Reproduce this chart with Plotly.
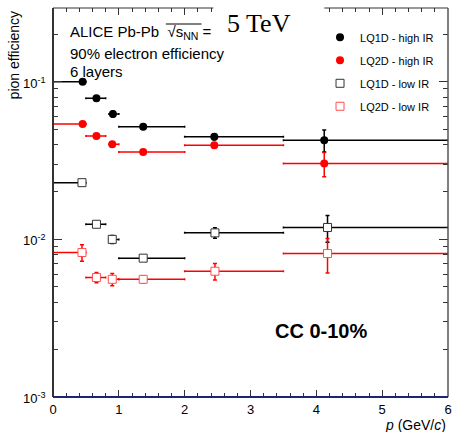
import math
import plotly.graph_objects as go

# ---- data ----
bin_lo = [0.0, 0.5, 0.85, 1.0, 2.0, 3.5]
bin_hi = [0.5, 0.8, 1.0, 2.0, 3.5, 6.0]

x_lq1d_high = [0.45, 0.66, 0.91, 1.37, 2.45, 4.12]
y_lq1d_high = [0.100, 0.0785, 0.0624, 0.0518, 0.0448, 0.0426]
e_lq1d_high = [0.002, 0.003, 0.0025, 0.0015, 0.002, 0.0068]

x_lq2d_high = [0.45, 0.66, 0.90, 1.37, 2.45, 4.12]
y_lq2d_high = [0.0539, 0.0452, 0.0402, 0.0359, 0.0396, 0.0303]
e_lq2d_high = [0.0015, 0.0015, 0.0015, 0.001, 0.0015, 0.0053]

x_lq1d_low = [0.44, 0.66, 0.90, 1.37, 2.46, 4.17]
y_lq1d_low = [0.0229, 0.01247, 0.0100, 0.0076, 0.0110, 0.0119]
e_lq1d_low = [0.001, 0.0005, 0.0006, 0.0003, 0.00085, 0.0023]

x_lq2d_low = [0.44, 0.66, 0.90, 1.37, 2.46, 4.17]
y_lq2d_low = [0.00826, 0.00573, 0.00558, 0.00558, 0.00628, 0.00813]
e_lq2d_low = [0.001, 0.00043, 0.0005, 0.0003, 0.00075, 0.002]

series_names = ["LQ1D - high IR", "LQ2D - high IR", "LQ1D - low IR", "LQ2D - low IR"]

y_major = [1e-3, 1e-2, 1e-1]
y_major_text = ["10<sup>-3</sup>", "10<sup>-2</sup>", "10<sup>-1</sup>"]
y_minor = [m * d for d in [1e-3, 1e-2, 1e-1] for m in range(2, 10) if m * d <= 0.3]
x_major = [0, 1, 2, 3, 4, 5, 6]
x_minor = [i * 0.2 for i in range(31)]

FONT = "Liberation Sans, Arial, sans-serif"

def xerr(xs):
    plus = [h - m for h, m in zip(bin_hi, xs)]
    minus = [m - l for l, m in zip(bin_lo, xs)]
    return plus, minus

fig = go.Figure()

def add(xs, ys, es, name, color, filled, edge):
    plus, minus = xerr(xs)
    if filled:
        marker = dict(symbol="circle", size=8, color=color, line=dict(width=0))
    else:
        marker = dict(symbol="square", size=8, color="white", line=dict(width=1, color=edge))
    fig.add_trace(go.Scatter(
        x=xs, y=ys, mode="markers", name=name, legendgroup=name,
        marker=marker,
        error_x=dict(type="data", array=plus, arrayminus=minus, symmetric=False,
                     color=color, thickness=1.5, width=1),
        error_y=dict(type="data", array=es, color=color, thickness=1.5, width=2),
    ))

add(x_lq1d_high, y_lq1d_high, e_lq1d_high, series_names[0], "black", True, "black")
add(x_lq2d_high, y_lq2d_high, e_lq2d_high, series_names[1], "red", True, "red")
add(x_lq1d_low, y_lq1d_low, e_lq1d_low, series_names[2], "black", False, "#333333")
add(x_lq2d_low, y_lq2d_low, e_lq2d_low, series_names[3], "red", False, "#ff5050")

fig.update_layout(
    width=457, height=432,
    margin=dict(l=53, r=5, t=8, b=35),
    paper_bgcolor="white", plot_bgcolor="white",
    font=dict(family=FONT, size=13, color="black"),
    showlegend=True,
    legend=dict(x=0.676, y=0.962, xanchor="left", yanchor="top",
                bgcolor="white", font=dict(size=11, family=FONT),
                tracegroupgap=4),
    xaxis=dict(range=[0, 6], showgrid=False, zeroline=False, showline=False,
               tickmode="array", tickvals=x_major, ticks="inside", ticklen=7,
               tickcolor="#333333", tickwidth=1, mirror="ticks",
               tickfont=dict(size=13), ticklabelstandoff=3,
               minor=dict(tickmode="array", tickvals=x_minor, ticks="inside",
                          ticklen=4, tickcolor="#333333", tickwidth=1)),
    yaxis=dict(type="log", range=[-3, -0.532], showgrid=False, zeroline=False,
               showline=False, tickmode="array", tickvals=y_major,
               ticks="inside", ticklen=9, showticklabels=False,
               tickcolor="#333333", tickwidth=1, mirror="ticks",
               minor=dict(tickmode="array", tickvals=y_minor, ticks="inside",
                          ticklen=5, tickcolor="#333333", tickwidth=1)),
)

# y tick labels placed on the y axis scale
for v, t in zip(y_major, y_major_text):
    fig.add_annotation(text=t, x=-5 / 399, y=math.log10(v), xref="paper", yref="y",
                       xanchor="right", yanchor="middle", showarrow=False, yshift=-1,
                       font=dict(size=13, family=FONT, color="black"))

# frame
fig.add_shape(type="line", xref="paper", yref="paper", x0=0, x1=1, y0=1, y1=1,
              line=dict(color="#333333", width=1), layer="above")
fig.add_shape(type="line", xref="paper", yref="paper", x0=1, x1=1, y0=0, y1=1,
              line=dict(color="#555555", width=1.5), layer="above")
fig.add_shape(type="line", xref="paper", yref="paper", x0=0, x1=0, y0=0, y1=1,
              line=dict(color="#333333", width=2), layer="above")
fig.add_shape(type="line", xref="paper", yref="paper", x0=0, x1=1, y0=0, y1=0,
              line=dict(color="#1c2570", width=2), layer="above")
# white patch behind "5 TeV"
fig.add_shape(type="rect", xref="paper", yref="paper",
              x0=(215 - 53) / 399, x1=(327 - 53) / 399, y0=(397 - 16) / 389, y1=1.03,
              line=dict(width=0), fillcolor="white", layer="above")

def px_x(p):
    return (p - 53) / 399

def px_y(p):
    return (397 - p) / 389

ann = [
    dict(text="ALICE Pb-Pb  √s<sub>NN</sub> =", x=px_x(68), y=px_y(33), size=15),
    dict(text="90% electron efficiency", x=px_x(68), y=px_y(53), size=15),
    dict(text="6 layers", x=px_x(68), y=px_y(71), size=15),
]
for a in ann:
    fig.add_annotation(text=a["text"], x=a["x"], y=a["y"], xref="paper", yref="paper",
                       xanchor="left", yanchor="middle", showarrow=False,
                       font=dict(size=a["size"], family=FONT, color="black"))

fig.add_annotation(text="5 TeV", x=px_x(227), y=px_y(23), xref="paper", yref="paper",
                   xanchor="left", yanchor="middle", showarrow=False,
                   font=dict(size=26, family="Liberation Serif, Times New Roman, serif", color="black"))
fig.add_annotation(text="<b>CC 0-10%</b>", x=px_x(275), y=px_y(331), xref="paper", yref="paper",
                   xanchor="left", yanchor="middle", showarrow=False,
                   font=dict(size=20, family=FONT, color="black"))
fig.add_annotation(text="<i>p</i> (GeV/<i>c</i>)", x=1.0, y=px_y(425), xref="paper", yref="paper",
                   xanchor="right", yanchor="middle", showarrow=False,
                   font=dict(size=14, family=FONT, color="black"))
fig.add_annotation(text="pion efficiency", x=px_x(14), y=px_y(9), xref="paper", yref="paper",
                   xanchor="center", yanchor="top", textangle=-90, showarrow=False,
                   font=dict(size=14, family=FONT, color="black"))
# overline of the square root
fig.add_shape(type="line", xref="paper", yref="paper", x0=px_x(167), x1=px_x(203),
              y0=px_y(24), y1=px_y(24), line=dict(color="black", width=1), layer="above")

fig.write_html("out.html", post_script="document.body.style.margin='0';",
               config={"displayModeBar": False})
